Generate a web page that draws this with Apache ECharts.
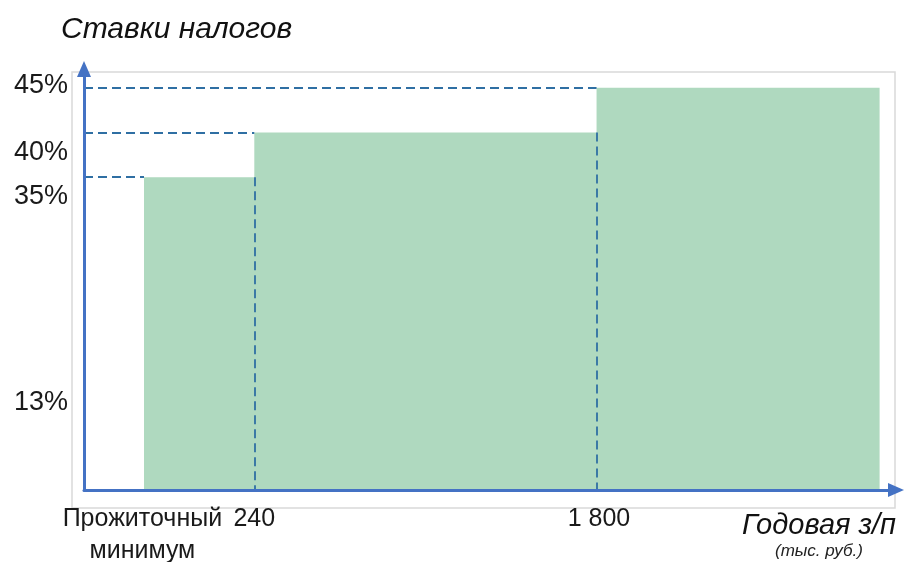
<!DOCTYPE html>
<html>
<head>
<meta charset="utf-8">
<script src="https://cdn.jsdelivr.net/npm/echarts@6/dist/echarts.min.js"></script>
<style>
  html, body { margin: 0; padding: 0; background: #fff; }
  #chart { width: 904px; height: 562px; }
</style>
</head>
<body>
<div id="chart"></div>
<script>
  // схематичная шкала: ось X в условных единицах (0..100)
  var bandStart = [7.4, 21.0, 63.2];
  var bandEnd = 98.1;
  var bandRates = [35, 40, 45];

  var rateLabels = ['13%', '35%', '40%', '45%'];
  var rateLabelPos = [9.8, 32.8, 37.8, 45.3];

  var xTickLabels = ['Прожиточный\nминимум', '240', '1 800'];
  var xTickPos = [7.2, 21.0, 63.5];

  function pick (v, pos, labels, tol) {
    for (var i = 0; i < pos.length; i++) {
      if (Math.abs(v - pos[i]) < tol) return labels[i];
    }
    return '';
  }

  var stepData = [];
  for (var i = 0; i < bandStart.length; i++) {
    stepData.push([bandStart[i], bandRates[i]]);
  }
  stepData.push([bandEnd, bandRates[bandRates.length - 1]]);

  // пунктирные направляющие
  var guides = [];
  for (var j = 0; j < bandRates.length; j++) {
    guides.push({coords: [[0, bandRates[j]], [bandStart[j], bandRates[j]]]});
    if (j < bandRates.length - 1) {
      guides.push({coords: [[bandStart[j + 1], bandRates[j]], [bandStart[j + 1], 0]]});
    }
  }

  var axisBlue = '#4472c4';
  var font = '"Liberation Sans", Arial, sans-serif';

  var myChart = echarts.init(document.getElementById('chart'));
  myChart.setOption({
    animation: false,
    title: [{
      text: 'Ставки налогов',
      left: 56,
      top: 10,
      textStyle: {fontFamily: font, fontStyle: 'italic', fontWeight: 'normal', fontSize: 30, color: '#111'}
    }, {
      text: 'Годовая з/п',
      subtext: '(тыс. руб.)',
      left: 814,
      top: 506,
      textAlign: 'center',
      itemGap: 3,
      textStyle: {fontFamily: font, fontStyle: 'italic', fontWeight: 'normal', fontSize: 29, color: '#111'},
      subtextStyle: {fontFamily: font, fontStyle: 'italic', fontSize: 17, color: '#222'}
    }],
    grid: [{
      left: 84,
      right: 9,
      top: 70,
      bottom: 72,
      containLabel: false,
      outerBoundsMode: 'none'
    }, {
      show: true,
      left: 72,
      right: 9,
      top: 72,
      bottom: 54,
      outerBoundsMode: 'none',
      borderColor: '#d9d9d9',
      borderWidth: 1.5,
      backgroundColor: 'transparent'
    }],
    xAxis: [{
      type: 'value',
      min: 0,
      max: 100,
      interval: 0.1,
      z: 5,
      axisLine: {
        lineStyle: {color: axisBlue, width: 3},
        symbol: ['none', 'triangle'],
        symbolSize: [14, 16],
        symbolOffset: [0, 1]
      },
      axisTick: {show: false},
      splitLine: {show: false},
      axisLabel: {
        margin: 13,
        fontFamily: font,
        fontSize: 25,
        lineHeight: 32,
        color: '#1a1a1a',
        align: 'center',
        formatter: function (v) { return pick(v, xTickPos, xTickLabels, 0.05); }
      }
    }, {
      gridIndex: 1,
      type: 'value',
      show: false
    }],
    yAxis: [{
      type: 'value',
      min: 0,
      max: 47,
      interval: 0.1,
      z: 5,
      axisLine: {
        show: true,
        lineStyle: {color: axisBlue, width: 3},
        symbol: ['none', 'triangle'],
        symbolSize: [14, 16],
        symbolOffset: [0, 1]
      },
      axisTick: {show: false},
      splitLine: {show: false},
      axisLabel: {
        margin: 16,
        fontFamily: font,
        fontSize: 27,
        color: '#1a1a1a',
        formatter: function (v) { return pick(v, rateLabelPos, rateLabels, 0.04); }
      }
    }, {
      gridIndex: 1,
      type: 'value',
      show: false
    }],
    series: [{
      type: 'line',
      step: 'end',
      data: stepData,
      symbol: 'none',
      lineStyle: {width: 0, opacity: 0},
      areaStyle: {color: '#afd9bf', opacity: 1},
      z: 2
    }, {
      type: 'lines',
      coordinateSystem: 'cartesian2d',
      data: guides,
      lineStyle: {color: '#2f6fa3', width: 1.8, type: [9, 5], opacity: 1},
      z: 3
    }]
  });
</script>
</body>
</html>
